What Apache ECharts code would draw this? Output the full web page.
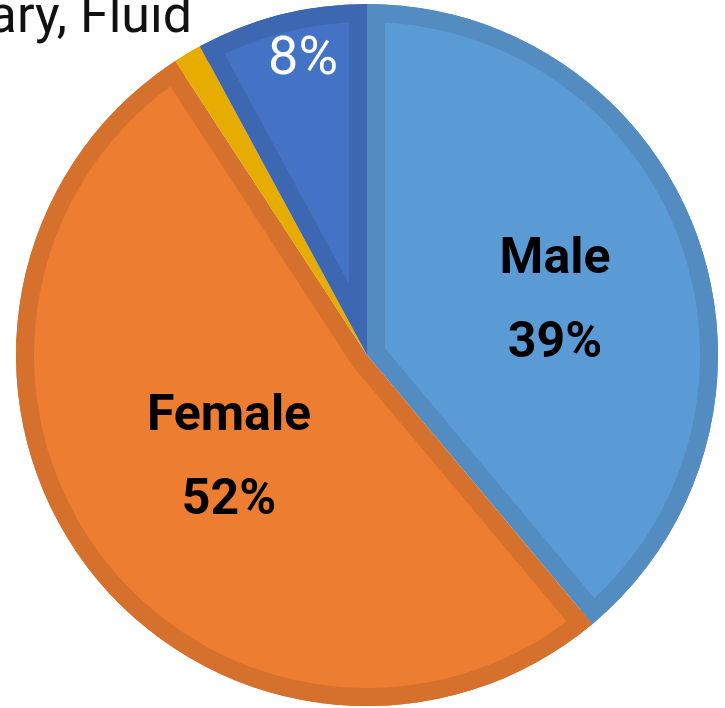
<!DOCTYPE html>
<html>
<head>
<meta charset="utf-8">
<script src="https://cdn.jsdelivr.net/npm/echarts@6/dist/echarts.min.js"></script>
<style>
  html, body { margin: 0; padding: 0; background: #fff; }
  #chart { width: 725px; height: 708px; }
</style>
</head>
<body>
<div id="chart"></div>
<script>
// slices, clockwise from 12 o'clock
var categories = ['Male', 'Female', 'Non-binary, Fluid', 'Prefer not to say'];
var values = [38.9, 51.9, 1.3, 7.9];
var fillColors = ['#5B9BD5', '#ED7D31', '#FFC000', '#4472C4'];
var edgeColors = ['#528CC0', '#D5712C', '#E6AD00', '#3D67B0'];

var cx = 367, cy = 355, R = 351, D = 18;
var font = 'Roboto, "Noto Sans", sans-serif';

var myChart = echarts.init(document.getElementById('chart'));

var total = values.reduce(function (a, b) { return a + b; }, 0);

// label styling per slice
function labelFor(i) {
    if (i === 3) {
        return { show: true, formatter: '{d}%', color: '#fff', fontSize: 54, fontWeight: 'normal', fontFamily: font };
    }
    if (i === 2) {
        return { show: true, formatter: '{b}', color: '#111', fontSize: 52, fontWeight: 'normal', fontFamily: font };
    }
    return { show: true, formatter: '{b}\n{d}%', color: '#000', fontSize: 50, fontWeight: 'bold', fontFamily: font, lineHeight: 84, align: 'center' };
}

var labelSpots = [
    { x: 555, y: 302, align: 'center', verticalAlign: 'middle' },
    { x: 229, y: 459, align: 'center', verticalAlign: 'middle' },
    { x: 192, y: 19, align: 'right', verticalAlign: 'middle' },
    { x: 303, y: 60, align: 'center', verticalAlign: 'middle' }
];

var series = [];

// dark base (becomes the border strips)
series.push({
    type: 'pie',
    z: 1,
    silent: true,
    center: [cx, cy],
    radius: R,
    startAngle: 90,
    label: { show: false },
    labelLine: { show: false },
    data: categories.map(function (c, i) {
        return { name: c, value: values[i], itemStyle: { color: edgeColors[i] } };
    })
});

// light insets, one per slice, apex moved along the bisector
var acc = 0;
categories.forEach(function (c, i) {
    var ang = values[i] / total * 360;
    var mid = (acc + ang / 2) * Math.PI / 180;
    acc += ang;
    var s = D / Math.sin(ang / 2 * Math.PI / 180);
    if (s > R / 2) return;
    series.push({
        type: 'pie',
        z: 2,
        silent: true,
        center: [cx + s * Math.sin(mid), cy - s * Math.cos(mid)],
        radius: R - s,
        startAngle: 90,
        label: { show: false },
        labelLine: { show: false },
        data: categories.map(function (c2, j) {
            return { name: c2, value: values[j], itemStyle: { color: j === i ? fillColors[j] : 'rgba(0,0,0,0)' } };
        })
    });
});

// outer ring border + labels
series.push({
    type: 'pie',
    z: 3,
    silent: true,
    center: [cx, cy],
    radius: [R - D, R],
    startAngle: 90,
    percentPrecision: 0,
    avoidLabelOverlap: false,
    labelLine: { show: false },
    labelLayout: function (p) {
        return labelSpots[p.dataIndex];
    },
    data: categories.map(function (c, i) {
        return { name: c, value: values[i], itemStyle: { color: edgeColors[i] }, label: labelFor(i) };
    })
});

option = {
    animation: false,
    backgroundColor: '#fff',
    series: series
};

myChart.setOption(option);
window.addEventListener("resize", function () {
    myChart.resize();
});
</script>
</body>
</html>
